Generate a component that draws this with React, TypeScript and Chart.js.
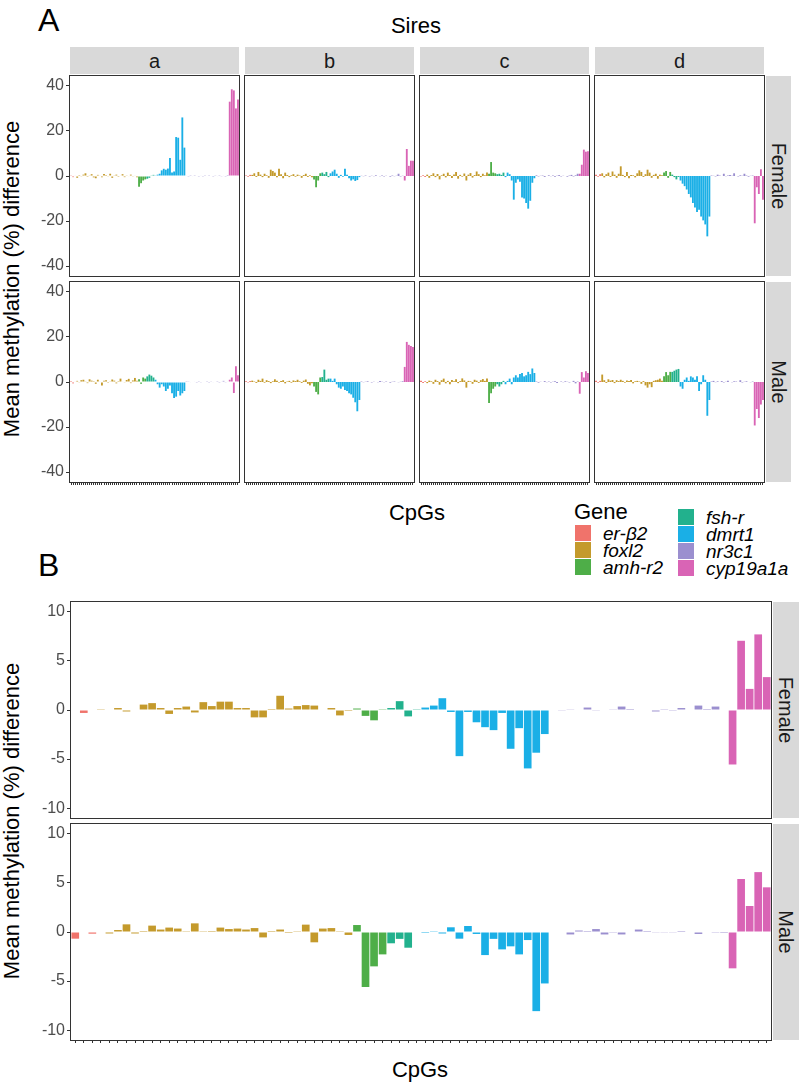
import React, { useEffect, useRef } from "react";
import { Chart, registerables } from "chart.js";
Chart.register(...registerables);

// ---------------- categories ----------------
const GENES = ["er-β2", "foxl2", "amh-r2", "fsh-r", "dmrt1", "nr3c1", "cyp19a1a"];
const GENE_COLORS = ["#F0736B", "#C49A2C", "#4EAE48", "#22B18D", "#1AAFE6", "#9B8FCF", "#D964B5"];
const GENE_CPG_COUNTS = [3, 30, 4, 4, 15, 21, 5];
const SIRES = ["a", "b", "c", "d"];
const SEXES = ["Female", "Male"];

const A_TICKS = [-40, -20, 0, 20, 40];
const A_LIMIT = 44.4;
const B_TICKS = [-10, -5, 0, 5, 10];
const B_LIMIT = 11;

// ---------------- panel A values (per sire, per sex) ----------------
// order: er-β2(3) | foxl2(30) | amh-r2(4) | fsh-r(4) | dmrt1(15) | nr3c1(21) | cyp19a1a(5)
const A_FEMALE_a = [
  0.3, -0.5, 0.2,
  -0.8, 0.4, -0.3, 0.6, 1.2, -0.4, 0.3, 0.8, -0.6, -1.0,
  0.5, 0.2, -0.5, 0.9, 0.4, -0.3, 1.0, -0.8, 0.3, 0.6,
  -0.4, 0.2, 0.8, -0.5, 0.3, -0.2, 0.6, -0.3, 0.2, -0.6,
  -4.8, -3.2, -2.0, -1.5,
  -1.2, -0.8, 0.3, 0.5,
  0.3, 0.6, 1.0, 2.5, 3.2, 2.8, 3.3, 8.0, 1.5, 2.0, 17.3, 17.0, 7.2, 26.0, 12.6,
  0.2, -0.1, 0.1, -0.2, 0.1, 0.0, -0.1, 0.2, -0.1, 0.1,
  -0.2, 0.1, 0.0, -0.1, 0.3, -0.2, 0.1, -0.3, 0.2, -0.1, 0.4,
  33.0, 38.5, 38.0, 30.0, 34.0,
];
const A_FEMALE_b = [
  0.2, -0.3, 0.5,
  0.5, 1.2, -0.4, 1.8, 0.6, -0.5, 1.0, 0.3, -0.8, 2.8,
  2.2, 1.5, -0.6, 3.2, 0.8, -1.0, 1.5, 0.4, -0.5, 0.3,
  0.8, -0.3, 0.6, 0.2, -0.8, 0.4, 1.0, -0.4, 0.3, -0.6,
  -1.5, -5.0, -2.0, 1.2,
  1.5, 0.8, 1.8, -0.5,
  1.2, 2.0, 2.8, 1.0, -0.8, 0.5, -0.3, 3.2, 0.5, -1.0, -2.0, -1.5, -2.2, -1.8, -0.5,
  0.1, -0.1, 0.2, 0.0, -0.2, 0.1, -0.1, 0.3, 0.0, -0.1,
  0.2, -0.2, 0.1, 0.0, -0.3, 0.2, -0.1, 0.1, 1.0, -0.2, 0.1,
  -2.0, 12.0, 4.5, 6.8, 6.8,
];
const A_FEMALE_c = [
  -0.2, 0.3, -0.4,
  0.6, -0.8, 0.4, 1.2, -0.5, 0.9, -1.5, 0.3, 1.0, -0.6,
  1.5, 0.4, -0.9, 0.7, 1.8, -1.2, 0.5, -0.3, 1.1, -2.0,
  0.6, 1.3, -0.7, 0.4, 2.0, 0.8, -0.5, 1.0, 0.3, 1.5,
  1.0, 6.2, 1.5, 1.2,
  0.8, 1.0, 0.5, 1.5,
  -0.5, 1.5, 0.8, -2.0, -10.5, -3.0, -1.5, -2.5, -9.5, -10.0, -12.0, -14.5, -11.0, -3.0, -1.0,
  0.3, -0.2, 0.1, 0.2, -0.4, 0.0, 0.3, -0.1, 0.2, -0.3,
  0.1, 0.4, -0.2, 0.1, 0.0, -0.3, 0.2, 0.5, -0.2, 0.3, 1.0,
  1.0, 5.0, 11.7, 10.8, 11.0,
];
const A_FEMALE_d = [
  0.5, -0.3, 0.8,
  1.2, -0.6, 0.8, 1.5, -0.4, 2.0, 0.6, -0.8, 1.0, 4.3,
  0.5, -0.5, 1.8, -1.0, 0.4, 0.3, -0.6, 1.2, 2.5, 1.8,
  -0.4, 0.8, 2.8, 1.5, -0.8, 0.5, 1.0, -1.2, 0.6, 0.3,
  1.5, 2.2, -0.8, 1.8,
  0.6, -0.5, -1.5, -0.4,
  -2.0, -3.4, -4.5, -6.0, -8.0, -9.5, -12.0, -14.0, -16.0, -15.0, -18.0, -19.7, -21.5, -26.8, -18.0,
  0.2, 0.1, -0.2, 0.6, 0.2, 0.0, 1.0, -0.1, 0.2, 0.4,
  0.1, 1.2, 0.0, -0.2, 0.3, 0.1, 1.0, 0.2, -0.3, 0.1, 0.2,
  -21.0, -5.0, -8.0, 3.0, -10.5,
];
const A_MALE_a = [
  0.4, -0.6, 0.2,
  0.5, -0.3, 0.8, 1.0, 0.3, -0.5, 1.2, 0.6, 0.4, -0.8,
  1.0, 0.2, -1.5, 0.5, 0.8, -0.4, 0.3, 1.1, 0.6, -0.6,
  0.4, 1.5, 0.2, -0.3, 0.9, 1.4, -0.5, 0.7, 1.8, 0.6,
  1.2, -0.8, 2.0, 1.5,
  2.5, 3.3, 2.8, 2.0,
  1.0, -1.0, -2.5, -1.0, -2.0, -4.0, -3.0, -1.5, -5.0, -7.1, -6.5, -4.0, -6.0, -5.0, -4.0,
  0.1, 0.3, -0.2, 0.0, 0.2, -0.1, 0.1, -0.3, 0.0, 0.2,
  0.1, -0.1, 0.3, -0.2, 0.0, 0.1, -0.1, 0.2, 0.5, -0.3, 0.2,
  1.0, 2.0, -4.9, 7.0, 3.0,
];
const A_MALE_b = [
  0.3, -0.2, 0.4,
  0.6, 0.2, -0.4, 1.0, 0.5, 1.5, -0.3, 0.8, 0.4, -0.5,
  0.3, 1.2, 0.6, -0.2, 0.4, 0.8, -0.6, 0.2, 0.5, -0.3,
  0.7, 0.4, 1.0, 0.3, -0.4, 0.6, 1.1, -0.8, -1.5, -0.5,
  -2.0, -4.4, -5.5, 2.0,
  2.2, 5.5, 1.0, 1.5,
  1.5, 0.5, 1.5, -1.0, -2.5, -3.0, -2.0, -3.5, -4.0, -5.0, -5.5, -7.0, -9.0, -13.0, -8.0,
  0.2, -0.1, 0.1, 0.3, 0.0, -0.2, 0.1, 0.0, -0.1, 0.4,
  0.1, -0.1, 0.2, 0.0, -0.3, 0.1, 0.2, 0.0, -0.1, 0.1, 0.3,
  6.7, 17.8, 16.5, 16.0, 15.5,
];
const A_MALE_c = [
  0.5, -0.4, 0.3,
  -0.5, 0.6, 0.3, -0.8, 1.0, 0.4, -1.2, 0.8, 1.5, -0.6,
  0.5, -1.0, 0.9, 0.3, 1.2, -0.5, 0.4, 1.6, 0.7, -2.5,
  0.5, 0.3, -0.8, 1.0, 0.6, -0.4, 0.8, 1.3, 0.5, 1.5,
  -9.3, -5.0, -3.0, -2.0,
  -1.0, -2.0, -1.0, 0.5,
  -1.0, 0.5, 1.5, -1.0, 2.0, 3.0, 2.0, 3.5, 4.0, 2.5, 3.0, 4.5, 3.5, 6.0, 4.0,
  0.2, -0.3, 0.1, 0.0, 0.4, -0.1, 0.2, -0.2, 0.1, 0.3,
  -0.4, 0.0, 0.2, -0.1, 0.3, 0.1, -0.2, 0.0, 0.5, -0.6, 0.2,
  -5.2, 4.4, 2.0, 4.8, 4.0,
];
const A_MALE_d = [
  0.6, -0.3, 0.5,
  3.3, 0.8, -0.4, 1.2, 0.6, 0.9, -0.5, 0.8, 0.4, 1.0,
  0.5, -0.3, 0.7, 0.4, 0.9, -0.6, 0.3, 0.5, 0.2, -0.8,
  0.4, -1.5, -2.5, -1.0, -2.3, 0.5, 0.8, 1.0, 1.5, 0.6,
  2.5, 4.4, 3.0, 4.5,
  4.5, 5.0, 5.5, 5.8,
  -2.0, -3.0, 1.0, 2.0, 0.5, 2.5, 2.0, 1.0, 2.5, -4.0, -1.0, 3.0, 1.0, -15.0, -8.0,
  0.2, 0.5, -0.1, 0.3, 0.0, 0.4, -0.2, 0.1, 0.6, 0.0,
  -0.1, 0.3, 0.2, 0.0, 0.8, -0.2, 0.1, 0.3, 0.0, -0.1, 0.2,
  -19.3, -12.0, -16.0, -10.0, -8.0,
];

// ---------------- panel B values (all sires) ----------------
const B_FEMALE = [
  0.05, -0.3, 0.05,
  0.02, 0.0, 0.2, -0.15, 0.05, 0.55, 0.7, 0.2, -0.4, 0.2,
  0.35, -0.25, 0.8, 0.4, 0.85, 0.85, 0.2, 0.2, -0.75, -0.75,
  0.1, 1.45, 0.15, 0.4, 0.5, 0.45, -0.05, 0.2, -0.55, -0.1,
  0.15, -0.6, -1.05, 0.02,
  0.2, 0.9, -0.65, 0.02,
  0.25, 0.45, 1.2, -0.2, -4.7, -0.2, -1.25, -1.75, -2.05, -0.3, -3.95, -1.85, -5.95, -4.35, -2.45,
  0.0, -0.03, 0.03, 0.05, 0.25, -0.03, -0.05, 0.03, 0.35, 0.1,
  0.05, -0.05, -0.15, 0.02, -0.02, 0.2, -0.05, 0.45, 0.1, 0.35, 0.05,
  -5.55, 7.05, 2.15, 7.7, 3.35,
];
const B_MALE = [
  -0.68, -0.05, -0.17,
  0.0, -0.15, 0.2, 0.78, -0.15, 0.1, 0.65, 0.25, 0.45, 0.35,
  0.02, 0.88, 0.02, 0.1, 0.45, 0.3, 0.35, 0.25, 0.4, -0.55,
  0.1, 0.25, -0.1, 0.02, 0.75, -1.05, 0.35, 0.4, 0.02, -0.3,
  0.71, -5.6, -3.5, -2.28,
  -1.15, -0.7, -1.6, -0.05,
  -0.1, 0.02, -0.15, 0.48, -0.68, 0.61, -0.2, -2.35, -0.7, -1.77, -1.46, -2.28, -0.82, -8.06, -5.24,
  0.0, -0.05, -0.25, 0.15, 0.1, 0.3, -0.25, -0.02, -0.25, 0.0,
  0.25, 0.1, -0.03, -0.03, -0.03, 0.1, 0.05, -0.2, 0.0, -0.02, -0.1,
  -3.7, 5.4, 2.65, 6.1, 4.55,
];

const A_VALUES = [
  [A_FEMALE_a, A_FEMALE_b, A_FEMALE_c, A_FEMALE_d],
  [A_MALE_a, A_MALE_b, A_MALE_c, A_MALE_d],
];
const B_VALUES = [B_FEMALE, B_MALE];

// derived category data
const CPG_GENE: number[] = GENE_CPG_COUNTS.flatMap((n, g) => Array(n).fill(g));
const CPG_LABELS = CPG_GENE.map((g, i) => `${GENES[g]} CpG ${i + 1}`);
const BAR_COLORS = CPG_GENE.map((g) => GENE_COLORS[g]);

// ---------------- layout ----------------
const FONT = '"Liberation Sans", Arial, Helvetica, sans-serif';
const AXIS_W = 44;
const XTICK_H = 4;
const A_LEFTS = [70, 245, 420, 595];
const A_W = 169;
const A_TOPS = [76, 282];
const A_H = 200;
const B_LEFT = 71;
const B_W = 700;
const B_TOPS = [602, 824];
const B_H = 216;

const panelBorder = {
  id: "panelBorder",
  afterDraw(chart: any) {
    const { ctx, chartArea: a } = chart;
    ctx.save();
    ctx.strokeStyle = "#333333";
    ctx.lineWidth = 1;
    ctx.strokeRect(
      Math.round(a.left) - 0.5,
      Math.round(a.top) - 0.5,
      Math.round(a.right - a.left) + 1,
      Math.round(a.bottom - a.top) + 1
    );
    ctx.restore();
  },
};

type FacetProps = {
  x: number; y: number; w: number; h: number;
  values: number[]; limit: number; ticks: number[];
  showY: boolean; showX: boolean;
};

function Facet({ x, y, w, h, values, limit, ticks, showY, showX }: FacetProps) {
  const ref = useRef<HTMLCanvasElement | null>(null);
  const leftExtra = showY ? AXIS_W : 1;
  const bottomExtra = showX ? XTICK_H : 1;
  const cw = leftExtra + w + 1;
  const ch = 1 + h + bottomExtra;
  useEffect(() => {
    if (!ref.current) return;
    const chart = new Chart(ref.current, {
      type: "bar",
      data: {
        labels: CPG_LABELS,
        datasets: [
          {
            data: values,
            backgroundColor: BAR_COLORS,
            borderWidth: 0,
            barPercentage: 0.9,
            categoryPercentage: 1,
          },
        ],
      },
      options: {
        responsive: false,
        maintainAspectRatio: false,
        animation: false,
        devicePixelRatio: 1,
        layout: { padding: { left: showY ? 0 : 1, right: 1, top: 1, bottom: showX ? 0 : 1 } },
        plugins: { legend: { display: false }, tooltip: { enabled: false } },
        scales: {
          x: {
            display: showX,
            offset: true,
            grid: { offset: false, drawOnChartArea: false, drawTicks: true, tickLength: 3, color: "#333333", lineWidth: 1 },
            border: { display: false },
            ticks: { display: false },
            afterFit: (s: any) => {
              if (showX) { s.height = XTICK_H; s.paddingLeft = 0; s.paddingRight = 0; }
            },
          },
          y: {
            display: showY,
            min: -limit,
            max: limit,
            afterBuildTicks: (s: any) => { s.ticks = ticks.map((v) => ({ value: v })); },
            ticks: {
              font: { family: FONT, size: 16 },
              color: "#4D4D4D",
              padding: 2,
              callback: (v: any) => String(v),
            },
            grid: { drawOnChartArea: false, drawTicks: true, tickLength: 4, color: "#333333" },
            border: { display: false },
            afterFit: (s: any) => {
              if (showY) { s.width = AXIS_W; s.paddingTop = 0; s.paddingBottom = 0; }
            },
          },
        },
      } as any,
      plugins: [panelBorder],
    });
    return () => chart.destroy();
  }, []);
  return (
    <canvas
      ref={ref}
      width={cw}
      height={ch}
      style={{ position: "absolute", left: x - leftExtra, top: y - 1, width: cw, height: ch }}
    />
  );
}

function Txt(props: { x: number; y: number; size: number; rotate?: number; italic?: boolean; color?: string; children: any; }) {
  const { x, y, size, rotate = 0, italic, color = "#000", children } = props;
  return (
    <div
      style={{
        position: "absolute", left: x, top: y,
        transform: `translate(-50%, -50%) rotate(${rotate}deg)`,
        fontSize: size, lineHeight: 1, whiteSpace: "nowrap", color,
        fontStyle: italic ? "italic" : "normal", fontFamily: FONT,
      }}
    >
      {children}
    </div>
  );
}

function Strip(props: { x: number; y: number; w: number; h: number; label: string; vertical?: boolean }) {
  const { x, y, w, h, label, vertical } = props;
  return (
    <div style={{ position: "absolute", left: x, top: y, width: w, height: h, background: "#D9D9D9" }}>
      <Txt x={w / 2} y={h / 2} size={20} rotate={vertical ? 90 : 0} color="#1A1A1A">{label}</Txt>
    </div>
  );
}

export default function App() {
  const legendCol1 = [0, 1, 2];
  const legendCol2 = [3, 4, 5, 6];
  return (
    <div style={{ position: "absolute", left: 0, top: 0, width: 800, height: 1085, background: "#fff", fontFamily: FONT, overflow: "hidden" }}>
      {/* Panel A */}
      <div style={{ position: "absolute", left: 38, top: 4, fontSize: 32, lineHeight: 1, fontFamily: FONT }}>A</div>
      <Txt x={416} y={26} size={22}>Sires</Txt>
      {SIRES.map((s, c) => (
        <Strip key={"ts" + s} x={A_LEFTS[c]} y={47} w={A_W} h={27} label={s} />
      ))}
      {SEXES.map((sx, r) => (
        <Strip key={"rsA" + sx} x={766} y={A_TOPS[r]} w={25} h={A_H} label={sx} vertical />
      ))}
      {A_VALUES.map((row, r) =>
        row.map((vals, c) => (
          <Facet
            key={`A${r}${c}`}
            x={A_LEFTS[c]} y={A_TOPS[r]} w={A_W} h={A_H}
            values={vals} limit={A_LIMIT} ticks={A_TICKS}
            showY={c === 0} showX={r === 1}
          />
        ))
      )}
      <Txt x={12} y={279} size={22} rotate={-90}>Mean methylation (%) difference</Txt>
      <Txt x={417} y={513} size={22}>CpGs</Txt>

      {/* Legend */}
      <div style={{ position: "absolute", left: 574, top: 512, transform: "translateY(-50%)", fontSize: 22, lineHeight: 1, fontFamily: FONT }}>Gene</div>
      {legendCol1.map((g, k) => (
        <React.Fragment key={"l1" + g}>
          <div style={{ position: "absolute", left: 575, top: 525 + k * 17, width: 16, height: 16, background: GENE_COLORS[g] }} />
          <div style={{ position: "absolute", left: 603, top: 533 + k * 17, transform: "translateY(-50%)", fontSize: 19, lineHeight: 1, fontStyle: "italic", fontFamily: FONT }}>{GENES[g]}</div>
        </React.Fragment>
      ))}
      {legendCol2.map((g, k) => (
        <React.Fragment key={"l2" + g}>
          <div style={{ position: "absolute", left: 678, top: 509 + k * 17, width: 16, height: 16, background: GENE_COLORS[g] }} />
          <div style={{ position: "absolute", left: 706, top: 517 + k * 17, transform: "translateY(-50%)", fontSize: 19, lineHeight: 1, fontStyle: "italic", fontFamily: FONT }}>{GENES[g]}</div>
        </React.Fragment>
      ))}

      {/* Panel B */}
      <div style={{ position: "absolute", left: 38, top: 549, fontSize: 32, lineHeight: 1, fontFamily: FONT }}>B</div>
      {SEXES.map((sx, r) => (
        <Strip key={"rsB" + sx} x={773} y={B_TOPS[r]} w={26} h={B_H} label={sx} vertical />
      ))}
      {B_VALUES.map((vals, r) => (
        <Facet
          key={`B${r}`}
          x={B_LEFT} y={B_TOPS[r]} w={B_W} h={B_H}
          values={vals} limit={B_LIMIT} ticks={B_TICKS}
          showY={true} showX={r === 1}
        />
      ))}
      <Txt x={12} y={821} size={22} rotate={-90}>Mean methylation (%) difference</Txt>
      <Txt x={420} y={1070} size={22}>CpGs</Txt>
    </div>
  );
}
